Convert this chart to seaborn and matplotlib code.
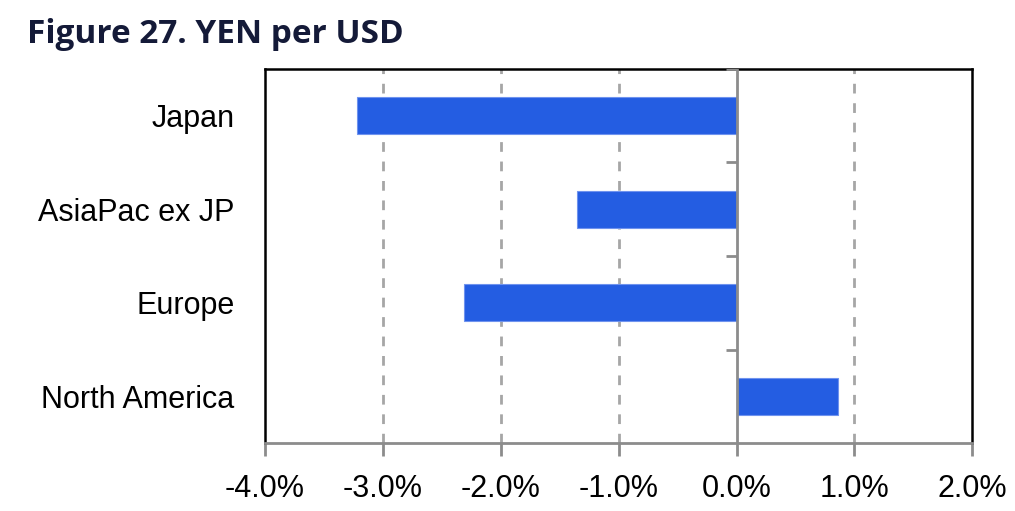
import numpy as np
import pandas as pd
import seaborn as sns
import matplotlib.pyplot as plt
from matplotlib import font_manager
from matplotlib.ticker import FuncFormatter

# Chart data (percent change)
regions = ["Japan", "AsiaPac ex JP", "Europe", "North America"]
changes = [-3.22, -1.35, -2.31, 0.86]
x_ticks = [-4, -3, -2, -1, 0, 1, 2]

df = pd.DataFrame({"Region": regions, "Change": changes})

sns.set_style("white")

installed = {f.name for f in font_manager.fontManager.ttflist}
narrow = "Liberation Sans Narrow" if "Liberation Sans Narrow" in installed else "Liberation Sans"
plt.rcParams["font.family"] = [narrow, "DejaVu Sans"]

fig = plt.figure(figsize=(10.15, 5.11), dpi=100)
ax = fig.add_axes([0.261, 0.133, 0.697, 0.732])

# dashed gridlines behind bars
for t in x_ticks[1:-1]:
    if t != 0:
        ax.axvline(t, color="#a6a6a6", lw=2, ls=(0, (3.5, 3.5)), zorder=0)

sns.barplot(data=df, x="Change", y="Region", orient="h", color="#245de2",
            width=0.4, saturation=1, edgecolor="#6f93ee", linewidth=0.8, ax=ax, zorder=2)

# zero line with category separators
ax.axvline(0, color="#8c8c8c", lw=2, zorder=3)
bounds = np.arange(len(regions) + 1) - 0.5
ax.hlines(bounds[:-1], -0.09, 0, color="#8c8c8c", lw=2, zorder=3)

ax.set_xlim(-4, 2)
ax.set_ylim(len(regions) - 0.5, -0.5)
ax.set_xticks(x_ticks)
ax.xaxis.set_major_formatter(FuncFormatter(lambda v, p: f"{v:.1f}%"))
ax.set_xlabel("")
ax.set_ylabel("")

fsize = 24 if narrow == "Liberation Sans Narrow" else 22
ax.tick_params(axis="x", length=9, width=2, color="#8c8c8c", pad=13,
               labelsize=fsize, labelcolor="black", bottom=True)
ax.tick_params(axis="y", length=0, pad=22, labelsize=fsize, labelcolor="black")

for side in ["left", "top", "right"]:
    ax.spines[side].set_color("black")
    ax.spines[side].set_linewidth(1.8)
ax.spines["bottom"].set_color("#8c8c8c")
ax.spines["bottom"].set_linewidth(2)

fig.text(0.027, 0.932, "Figure 27. YEN per USD", fontsize=24, fontweight="bold",
         color="#141a38", family=["Open Sans", "DejaVu Sans"], va="center", ha="left")

fig.savefig("out.png", dpi=100)
